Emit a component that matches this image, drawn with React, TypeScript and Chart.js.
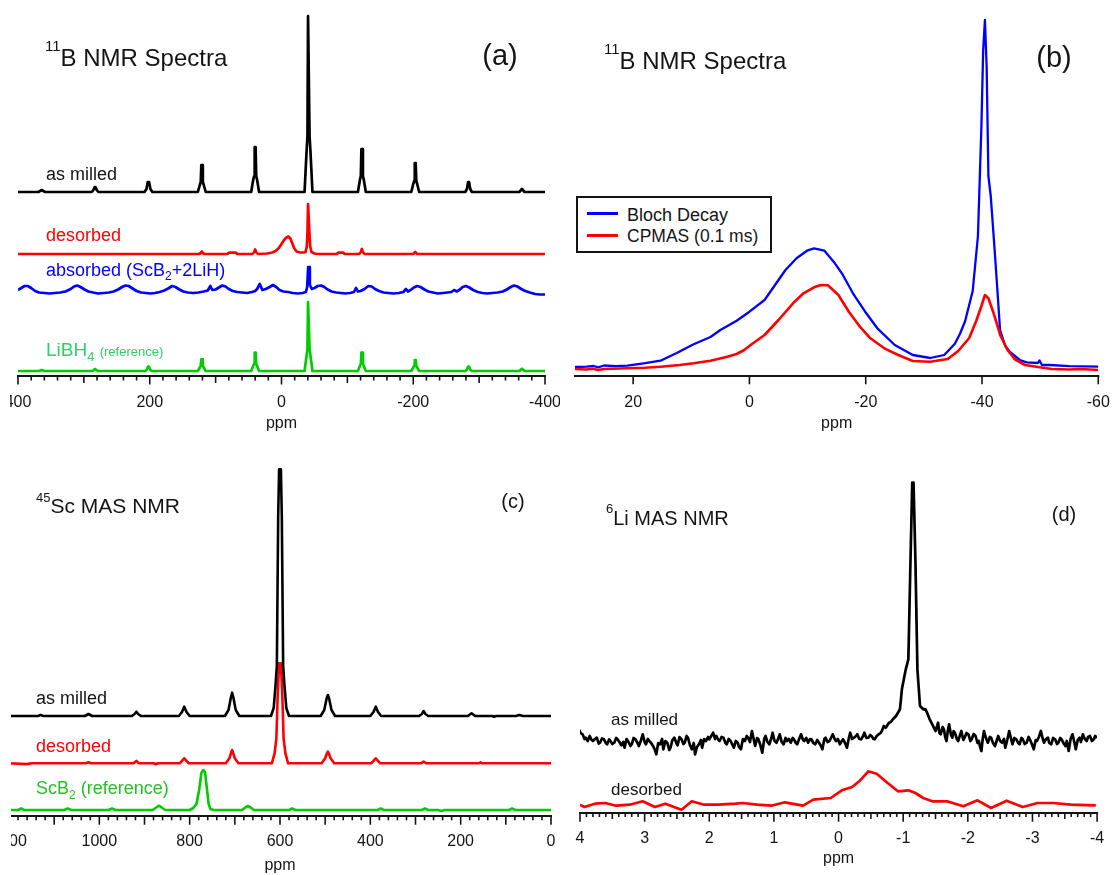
import React, { useEffect, useRef } from "react";
import { Chart, registerables } from "chart.js";
Chart.register(...registerables);

const FONT = "'Liberation Sans', Arial, Helvetica, sans-serif";
type Pt = [number, number];

// ================= Panel (a): 11B NMR spectra =================
const aTickLabels = [400, 200, 0, -200, -400];
const aMilledBase = 184;
const aDesorbedBase = 122;
const aAbsorbedBase = 83;
const aReferenceBase = 5;
const aMilled: Pt[] = [
  [400, 0], [369, 0], [364, 2], [359, 0],
  [288, 0], [285.5, 2], [283.5, 5], [282.5, 5], [280.5, 2], [278, 0],
  [208, 0], [205, 3], [203, 10], [201, 10], [199, 3], [196, 0],
  [127, 0], [124, 7], [122.6, 10], [121.7, 27], [120.3, 27], [119.4, 10], [118, 7], [115, 0],
  [46, 0], [43, 12], [41.6, 16], [40.7, 45], [39.3, 45], [38.4, 16], [37, 12], [34, 0],
  [-35, 0], [-38, 40], [-39.4, 56], [-40.3, 176], [-41.7, 176], [-42.6, 56], [-44, 40], [-47, 0],
  [-116, 0], [-119, 12], [-120.4, 16], [-121.3, 43], [-122.7, 43], [-123.6, 16], [-125, 12], [-128, 0],
  [-197, 0], [-200, 8], [-201.4, 11], [-202.3, 29], [-203.7, 29], [-204.6, 11], [-206, 8], [-209, 0],
  [-279, 0], [-281.5, 3], [-283.3, 10], [-284.7, 10], [-286.5, 3], [-289, 0],
  [-361, 0], [-363, 1.5], [-365, 3], [-367, 1.5], [-369, 0], [-400, 0],
];
const aDesorbed: Pt[] = [
  [400, 0], [125, 0], [122.5, 1], [121, 2.5], [119.5, 1], [117, 0],
  [82, 0], [80, 1.3], [69, 1.3], [67, 0],
  [44, 0], [41.5, 2], [40, 4.5], [38.5, 2], [36, 0],
  [22, 0.5], [14, 1.5], [9, 3], [4, 6], [0, 10], [-4, 14], [-7.5, 16.5], [-10.5, 17.5], [-13.5, 15.5],
  [-16.5, 10.5], [-19.5, 5.5], [-23, 2.5], [-28, 1.5], [-34, 1.5],
  [-36.5, 2], [-38.5, 8], [-39.5, 22], [-40.3, 50], [-41.5, 50], [-42.3, 22], [-43.5, 8], [-45.5, 2], [-50, 0.5], [-56, 0],
  [-84, 0], [-86, 1.3], [-94, 1.3], [-96, 0],
  [-118, 0], [-120.5, 2], [-122, 5], [-123.5, 2], [-126, 0],
  [-200, 0], [-203, 2], [-206, 0], [-400, 0],
];
const aAbsorbed: Pt[] = [
  [400, 3], [395, 5], [390, 7], [385, 7], [380, 5], [374, 2], [368, 0.5], [360, 0], [352, -0.5], [344, 0],
  [336, 0.5], [328, 1.5], [320, 4], [315, 6.5], [310, 7.5], [305, 6], [299, 3.5], [293, 1.5], [286, 0.5],
  [278, -0.5], [270, 0], [262, 0.5], [255, 1.5], [248, 3.5], [242, 6], [237, 7.5], [232, 7], [226, 4.5],
  [220, 2], [213, 0.5], [206, 0], [199, -0.5], [192, 0], [185, 1], [178, 2.5], [172, 4.5], [166, 7],
  [161, 6], [155, 3.5], [149, 1.5], [142, 0.5], [134, 0], [126, 0.5], [118, 1.5], [112, 2.5], [108, 7],
  [105, 3], [100, 3.5], [95, 5.5], [90, 7.5], [85, 6.5], [80, 4], [74, 2], [67, 1], [60, 0.5], [52, 0],
  [45, 1], [40, 2], [37, 4], [33, 9], [29, 3], [24, 4], [18, 6], [13, 8], [8, 6], [3, 3], [-3, 1.5],
  [-10, 1], [-17, 0], [-25, -0.5], [-32, 0], [-37, 1], [-39, 6], [-40.5, 26], [-42, 26], [-43, 8],
  [-46, 4], [-50, 5], [-55, 7], [-60, 7.5], [-65, 6], [-70, 3.5], [-76, 1.5], [-83, 0.5], [-90, 0],
  [-97, -0.5], [-104, 0], [-110, 1], [-113, 5], [-116, 1.5], [-120, 2], [-126, 4], [-132, 7], [-137, 6.5],
  [-142, 4], [-148, 2], [-155, 0.5], [-162, 0], [-170, -0.5], [-178, 0], [-185, 1], [-189, 4], [-192, 1.5],
  [-196, 3], [-201, 5.5], [-206, 7], [-211, 6], [-217, 3.5], [-223, 1.5], [-230, 0.5], [-237, -0.5],
  [-245, 0], [-252, 0.5], [-258, 1], [-262, 3], [-266, 1.5], [-270, 3], [-275, 6], [-280, 7], [-285, 5.5],
  [-291, 3], [-298, 1], [-305, 0], [-312, -0.5], [-320, 0], [-328, 0.5], [-336, 1.5], [-342, 3.5],
  [-348, 6], [-353, 7.5], [-358, 6.5], [-364, 4], [-370, 2], [-377, 0.5], [-385, -1], [-392, -1.5], [-400, -1.5],
];
const aReference: Pt[] = [
  [400, 0], [368, 0], [364, 1], [360, 0], [287, 0], [283, 2], [279, 0],
  [207, 0], [204.5, 1.5], [202.7, 4.3], [201.3, 4.3], [199.5, 1.5], [197, 0],
  [127, 0], [124, 3.5], [122.6, 5], [121.7, 11.7], [120.3, 11.7], [119.4, 5], [118, 3.5], [115, 0],
  [46, 0], [43, 5], [41.6, 7], [40.7, 18.3], [39.3, 18.3], [38.4, 7], [37, 5], [34, 0],
  [-35, 0], [-38, 15], [-39.4, 22], [-40.3, 69], [-41.7, 69], [-42.6, 22], [-44, 15], [-47, 0],
  [-116, 0], [-119, 5], [-120.4, 7], [-121.3, 18.3], [-122.7, 18.3], [-123.6, 7], [-125, 5], [-128, 0],
  [-197, 0], [-200, 3.5], [-201.4, 5], [-202.3, 11], [-203.7, 11], [-204.6, 5], [-206, 3.5], [-209, 0],
  [-279, 0], [-281.5, 1.5], [-283.3, 4.3], [-284.7, 4.3], [-286.5, 1.5], [-289, 0],
  [-361, 0], [-365, 2.3], [-369, 0], [-400, 0],
];

// ================= Panel (b): 11B NMR, Bloch decay vs CPMAS =================
const bTickLabels = [20, 0, -20, -40, -60];
const bBloch: Pt[] = [
  [30, 9], [28, 9.3], [26.8, 10], [26, 8.7], [25, 10.5], [23, 9.8], [21, 10.3], [18.2, 12.7], [15.3, 15.3],
  [12.5, 23], [9.6, 31.7], [6.7, 39], [5, 46], [2.2, 55.3], [0, 64.3], [-2.6, 76], [-4.4, 91], [-6.2, 106],
  [-8.1, 117.7], [-9.9, 125.3], [-11.1, 127.7], [-12.9, 125.3], [-14.7, 112.7], [-15.9, 102.7],
  [-17.8, 82.7], [-19.9, 64.3], [-22, 47.7], [-25, 31], [-28.1, 21], [-31.1, 18], [-33.5, 21],
  [-35.3, 32], [-36.2, 42], [-37.1, 55], [-38.4, 85], [-39.3, 140], [-39.9, 250], [-40.2, 326],
  [-40.5, 356], [-40.8, 309], [-41.1, 200], [-41.5, 180], [-42, 140], [-42.6, 90], [-43.1, 46],
  [-44, 30], [-44.8, 24], [-46.5, 16], [-47.7, 13.7], [-49.6, 13], [-49.9, 15.5], [-50.3, 11],
  [-51.6, 11], [-55, 9.8], [-60, 9.3],
];
const bCpmas: Pt[] = [
  [30, 7], [28, 6.5], [27, 7.3], [26, 6], [25, 7], [21, 7.7], [18, 8.3], [15.3, 9.3], [12, 11],
  [9.6, 12.7], [6.7, 15.3], [3.8, 19.3], [2.2, 22], [0.9, 26], [-0.2, 31], [-2.6, 41], [-5, 56],
  [-7.5, 72.7], [-9.3, 82.7], [-11.1, 88.7], [-12.3, 91], [-13.5, 90.7], [-15.3, 81], [-17.1, 64.3],
  [-19, 49.3], [-20.8, 37.7], [-23.2, 27.7], [-25.6, 21], [-28.1, 15], [-31.1, 14.3], [-34.1, 17],
  [-35.9, 25], [-37.8, 38], [-39, 55], [-39.9, 70], [-40.5, 81], [-41.1, 77.7], [-42, 62.7], [-43.2, 40],
  [-44.4, 26], [-45.6, 17], [-47.4, 11], [-49.9, 8.7], [-52, 7], [-55, 6.5], [-57, 7], [-60, 6],
];

// ================= Panel (c): 45Sc MAS NMR =================
const cTickLabels = [1200, 1000, 800, 600, 400, 200, 0];
const cMilledBase = 100;
const cDesorbedBase = 52.7;
const cReferenceBase = 6;
const cMilled: Pt[] = [
  [1200, 0], [1136, 0], [1130, 1], [1124, 0], [1032, 0], [1024, 2], [1016, 0],
  [928, 0], [922, 2], [918, 4.3], [914, 2], [908, 0],
  [824, 0], [817, 4], [812, 9.3], [807, 4], [800, 0],
  [722, 0], [714, 6], [709, 18], [706, 23.3], [703, 18], [698, 6], [690, 0],
  [620, 0], [614, 8], [610, 30], [607, 50], [604, 200], [602, 246.7], [598, 246.7], [596, 200],
  [593, 50], [590, 30], [586, 8], [580, 0],
  [510, 0], [502, 6], [497, 17], [494, 21], [491, 17], [486, 6], [478, 0],
  [400, 0], [393, 4], [388, 9.3], [383, 4], [376, 0],
  [292, 0], [286, 2], [282, 5], [278, 2], [272, 0],
  [184, 0], [176, 2.7], [168, 0], [130, 0], [126, -0.8], [122, 0], [78, 0], [70, 1], [62, 0], [0, 0],
];
const cDesorbed: Pt[] = [
  [1200, 0], [1160, -0.8], [1150, 0], [1030, 0], [1024, 1], [1018, 0], [924, 0], [918, 2.4], [912, 0],
  [880, 0], [875, -1], [870, 0],
  [822, 0], [816, 3], [812, 5], [808, 3], [802, 0],
  [720, 0], [712, 5], [708, 11], [706, 13.3], [704, 11], [700, 5], [692, 0],
  [618, 0], [612, 10], [608, 25], [605, 70], [602, 100], [598, 100], [595, 70], [592, 25], [588, 10], [582, 0],
  [508, 0], [500, 5], [496, 10], [494, 11.7], [492, 10], [488, 5], [480, 0],
  [398, 0], [392, 3], [388, 5], [384, 3], [378, 0],
  [288, 0], [282, 1.7], [276, 0], [160, 0], [156, 1], [152, 0], [0, 0],
];
const cReference: Pt[] = [
  [1200, 0], [1180, 0], [1173, 1.5], [1166, 0], [1078, 0], [1070, 1.5], [1062, 0], [980, 0], [972, 1.5], [964, 0],
  [882, 0], [874, 2.5], [868, 4.3], [862, 2.5], [854, 0],
  [800, 0], [792, 2], [785, 6], [779, 20], [774, 37], [770, 40], [766, 38], [762, 22], [758, 6], [754, 1], [746, 0],
  [684, 0], [677, 2.5], [671, 4], [665, 2.5], [658, 0],
  [580, 0], [573, 1.5], [566, 0], [384, 0], [377, 1.5], [370, 0], [286, 0], [279, 1.5], [272, 0],
  [250, 0], [243, -1], [236, 0], [93, 0], [86, 1.5], [79, 0], [0, 0],
];

// ================= Panel (d): 6Li MAS NMR =================
const dTickLabels = [4, 3, 2, 1, 0, -1, -2, -3, -4];
const dMilledBase = 72;
const dDesorbedBase = 8;
const dMilled: Pt[] = [
  [4.02, 11.7], [3.99, 8], [3.96, 6.7], [3.93, 2], [3.91, 3.3], [3.88, 0], [3.85, 5], [3.82, 1], [3.8, 0],
  [3.77, 2], [3.74, 3.3], [3.71, -2.5], [3.69, -1.7], [3.66, 2.5], [3.63, 1.7], [3.6, -2],
  [3.58, -3.3], [3.55, 1.5], [3.53, 0], [3.5, -3], [3.47, -1.7], [3.44, 3], [3.42, 1.7], [3.39, -1],
  [3.36, -4.3], [3.33, -1], [3.31, -6.7], [3.28, 2], [3.25, -1], [3.22, -5], [3.2, -3.3],
  [3.17, 3], [3.14, 1.7], [3.11, -2], [3.09, -5], [3.06, 0], [3.03, 6.7], [3.0, -1], [2.98, -3.3], [2.95, 2],
  [2.93, 0], [2.9, -2], [2.87, -5], [2.84, -9], [2.82, -13.3], [2.79, -2], [2.76, -3.3], [2.73, 2],
  [2.71, -8.3], [2.68, 0], [2.65, -1.7], [2.62, -9], [2.6, -6.7], [2.57, 1], [2.54, 3.3], [2.51, -2],
  [2.49, -4.3], [2.46, 4], [2.43, 1.7], [2.4, -3], [2.38, -1.7], [2.35, 5], [2.33, 3.3], [2.3, -4],
  [2.27, -8.3], [2.24, -2], [2.22, -13.3], [2.19, -6], [2.16, -3.3], [2.13, 1], [2.11, -6.7], [2.08, 2],
  [2.05, 0], [2.02, 4], [2.0, 1.7], [1.97, 5], [1.94, 8.3], [1.91, 2], [1.89, 5], [1.86, 1],
  [1.84, 0], [1.81, 4], [1.78, 3.3], [1.75, -2], [1.73, -3.3], [1.7, 2], [1.67, 0], [1.64, -4],
  [1.62, -6.7], [1.59, 0], [1.56, -1.7], [1.54, -6], [1.51, -8.3], [1.48, 2], [1.45, 0], [1.42, 5],
  [1.4, 3.3], [1.37, -1], [1.34, 10], [1.31, 1], [1.29, -5], [1.26, 3], [1.24, 1.7], [1.21, -4],
  [1.18, -11.7], [1.15, 2], [1.13, 5], [1.1, -1], [1.07, -3.3], [1.04, 3], [1.02, 8.3], [0.99, 0],
  [0.96, -1.7], [0.93, 3], [0.91, 6.7], [0.88, -1], [0.85, -3.3], [0.82, 3], [0.8, 0], [0.77, 2],
  [0.74, -1.7], [0.71, 3], [0.69, 1.7], [0.66, -2], [0.64, -3.3], [0.61, 2], [0.58, 6.7], [0.55, 1],
  [0.53, 0], [0.5, 3], [0.47, -1.7], [0.44, 2], [0.42, 1.7], [0.39, -2], [0.36, -3.3], [0.33, 1],
  [0.31, -1], [0.28, -4], [0.25, -8.3], [0.22, 2], [0.2, 3.3], [0.17, -1], [0.14, 0], [0.11, 4],
  [0.09, 6.7], [0.06, 2], [0.04, 0], [0.01, 2], [-0.02, -3.3], [-0.05, 0], [-0.07, 1.7], [-0.1, -2],
  [-0.13, -6.7], [-0.16, 3], [-0.18, 8.3], [-0.21, 2], [-0.24, 3.3], [-0.27, 5], [-0.29, 6.7],
  [-0.32, 2], [-0.35, 1.7], [-0.38, 5], [-0.4, 8.3], [-0.43, 3], [-0.46, 3.3], [-0.49, 6], [-0.51, 5],
  [-0.54, 2], [-0.56, 1.7], [-0.59, 5], [-0.62, 6.7], [-0.65, 8],
  [-0.67, 10], [-0.7, 15], [-0.73, 13.3], [-0.78, 18.3], [-0.81, 19], [-0.84, 21.7], [-0.89, 25], [-0.95, 31.7], [-0.98, 51.7],
  [-1.04, 71.7], [-1.08, 81.7], [-1.11, 171.7], [-1.14, 258.3], [-1.16, 258.3], [-1.19, 178.3],
  [-1.22, 71.7], [-1.26, 35], [-1.31, 31.7], [-1.34, 32], [-1.37, 28.3], [-1.41, 21.7], [-1.45, 16.7], [-1.5, 10],
  [-1.52, 14], [-1.54, 18.3], [-1.56, 8], [-1.58, 6.7], [-1.61, 14], [-1.63, 11.7], [-1.65, 4], [-1.67, 0],
  [-1.69, 10], [-1.71, 16.7], [-1.74, 6], [-1.76, 3.3], [-1.78, 10], [-1.8, 8.3], [-1.83, 2],
  [-1.85, 0], [-1.88, 6], [-1.9, 10], [-1.93, 1], [-1.95, 3.3], [-1.98, 8], [-2.01, 6.7], [-2.04, 0],
  [-2.06, 1.7], [-2.09, 7], [-2.12, 5], [-2.15, -2], [-2.17, 0], [-2.19, -6], [-2.21, -10], [-2.23, 2],
  [-2.25, 10], [-2.28, 3], [-2.31, -1.7], [-2.34, 4], [-2.36, 3.3], [-2.39, -2], [-2.42, -5], [-2.45, 1],
  [-2.47, 5], [-2.5, 0], [-2.53, -1.7], [-2.56, 2], [-2.58, -6.7], [-2.61, 1], [-2.64, 10], [-2.67, 2],
  [-2.69, -3.3], [-2.72, 3], [-2.75, 1.7], [-2.78, -2], [-2.8, -3.3], [-2.83, 3], [-2.85, 1.7], [-2.88, -3],
  [-2.91, -1.7], [-2.94, 4], [-2.96, 1.7], [-2.99, -3], [-3.02, -8.3], [-3.05, 1], [-3.07, 0], [-3.1, 4],
  [-3.13, 10], [-3.16, 2], [-3.18, -1.7], [-3.21, 2], [-3.24, 3.3], [-3.26, -2], [-3.29, -3.3],
  [-3.32, 3], [-3.35, 1.7], [-3.38, -3], [-3.4, -1.7], [-3.43, 3], [-3.45, 1.7], [-3.48, -2],
  [-3.51, -5], [-3.53, 0], [-3.56, -10], [-3.59, 2], [-3.62, 6.7], [-3.65, -2], [-3.67, -8.3], [-3.7, 1],
  [-3.73, 3.3], [-3.75, -1], [-3.78, 6.7], [-3.81, 2], [-3.84, 0], [-3.86, 4], [-3.89, 5], [-3.92, 0],
  [-3.95, 1.7], [-3.97, 5], [-4.0, 3.3],
];
const dDesorbed: Pt[] = [
  [4.0, 0.3], [3.93, -2], [3.77, 1.3], [3.61, 2], [3.44, -0.7], [3.23, 0.3], [3.03, 3.7], [2.84, -2],
  [2.68, 1.3], [2.43, -4.7], [2.27, 3.7], [2.08, 0.3], [1.86, 0.3], [1.59, 1.3], [1.48, 2], [1.26, 0.3],
  [1.04, -0.7], [0.83, 2.7], [0.55, -0.7], [0.39, 5.3], [0.12, 7], [-0.05, 14.7], [-0.21, 18],
  [-0.32, 23.7], [-0.46, 33.7], [-0.59, 31.3], [-0.76, 22], [-0.92, 13.7], [-1.08, 14.7], [-1.19, 12],
  [-1.31, 7], [-1.46, 3.6], [-1.68, 3.7], [-1.93, -1.3], [-2.15, 4.7], [-2.36, -3], [-2.6, 4.3],
  [-2.85, -2], [-3.08, 2], [-3.32, 2], [-3.59, 0.3], [-3.98, -0.4],
];

// ================= Chart panels =================
type Trace = { data: Pt[]; base: number; color: string; width: number };
type PanelCfg = {
  left: number; top: number; width: number; height: number; clipLeft: number;
  padL: number; padR: number; xMin: number; xMax: number; yMax: number;
  ticks: number[]; tickPad: number; axisH: number;
  minorStep: number; midStep: number; majorStep: number;
  minorLen: number; midLen: number; majorLen: number;
  traces: Trace[];
};

const BLACK = "#000000";
const RED = "#ff0000";
const BLUE = "#0000ff";
const GREEN = "#00cc00";
const INK = "#141414";

const panelA: PanelCfg = {
  left: 0, top: 0, width: 560, height: 433, clipLeft: 10, padL: 18, padR: 15,
  xMin: -400, xMax: 400, yMax: 376, ticks: aTickLabels, tickPad: 17, axisH: 57,
  minorStep: 20, midStep: 100, majorStep: 200, minorLen: 4.5, midLen: 7, majorLen: 8.5,
  traces: [
    { data: aMilled, base: aMilledBase, color: BLACK, width: 2.7 },
    { data: aDesorbed, base: aDesorbedBase, color: RED, width: 2.7 },
    { data: aAbsorbed, base: aAbsorbedBase, color: BLUE, width: 2.7 },
    { data: aReference, base: aReferenceBase, color: GREEN, width: 2.7 },
  ],
};
const panelB: PanelCfg = {
  left: 560, top: 0, width: 553, height: 433, clipLeft: 560, padL: 15, padR: 14.7,
  xMin: -60, xMax: 30, yMax: 376, ticks: bTickLabels, tickPad: 17, axisH: 57,
  minorStep: 20, midStep: 20, majorStep: 20, minorLen: 8.3, midLen: 8.3, majorLen: 8.3,
  traces: [
    { data: bCpmas, base: 0, color: RED, width: 2.6 },
    { data: bBloch, base: 0, color: BLUE, width: 2.3 },
  ],
};
const panelC: PanelCfg = {
  left: 0, top: 440, width: 560, height: 435, clipLeft: 11, padL: 9, padR: 9,
  xMin: 0, xMax: 1200, yMax: 376, ticks: cTickLabels, tickPad: 16, axisH: 59,
  minorStep: 20, midStep: 100, majorStep: 200, minorLen: 4.3, midLen: 8.7, majorLen: 8.7,
  traces: [
    { data: cReference, base: cReferenceBase, color: GREEN, width: 2.6 },
    { data: cMilled, base: cMilledBase, color: BLACK, width: 2.6 },
    { data: cDesorbed, base: cDesorbedBase, color: RED, width: 2.6 },
  ],
};
const panelD: PanelCfg = {
  left: 560, top: 440, width: 553, height: 428, clipLeft: 560, padL: 20, padR: 15.9,
  xMin: -4, xMax: 4, yMax: 373, ticks: dTickLabels, tickPad: 16, axisH: 55,
  minorStep: 0.1, midStep: 0.5, majorStep: 1, minorLen: 4, midLen: 6, majorLen: 8.7,
  traces: [
    { data: dMilled, base: dMilledBase, color: BLACK, width: 2.7 },
    { data: dDesorbed, base: dDesorbedBase, color: RED, width: 2.7 },
  ],
};

function isMult(v: number, step: number) {
  const q = v / step;
  return Math.abs(q - Math.round(q)) < 1e-6;
}

function Panel({ cfg }: { cfg: PanelCfg }) {
  const ref = useRef<HTMLCanvasElement>(null);
  useEffect(() => {
    const axisPlugin = {
      id: "nmrAxis",
      afterDatasetsDraw(chart: any) {
        const { ctx, chartArea } = chart;
        const xs = chart.scales.x;
        const y0 = chartArea.bottom;
        ctx.save();
        ctx.strokeStyle = INK;
        ctx.lineWidth = 2;
        ctx.beginPath();
        ctx.moveTo(chartArea.left - 1, y0);
        ctx.lineTo(chartArea.right + 1, y0);
        ctx.stroke();
        ctx.lineWidth = 1.6;
        const start = Math.ceil(cfg.xMin / cfg.minorStep - 1e-9);
        for (let k = start; ; k++) {
          const v = k * cfg.minorStep;
          if (v > cfg.xMax + 1e-9) break;
          const len = isMult(v, cfg.majorStep) ? cfg.majorLen : isMult(v, cfg.midStep) ? cfg.midLen : cfg.minorLen;
          const px = xs.getPixelForValue(v);
          ctx.beginPath();
          ctx.moveTo(px, y0);
          ctx.lineTo(px, y0 + len);
          ctx.stroke();
        }
        ctx.restore();
      },
    };
    const chart = new Chart(ref.current as HTMLCanvasElement, {
      type: "line",
      data: {
        datasets: cfg.traces.map((t) => ({
          data: t.data.map(([x, y]) => ({ x, y: y + t.base })),
          borderColor: t.color,
          backgroundColor: t.color,
          borderWidth: t.width,
          pointRadius: 0,
          tension: 0,
          fill: false,
          borderJoinStyle: "round" as const,
        })),
      },
      options: {
        responsive: false,
        animation: false,
        events: [],
        layout: { padding: { left: cfg.padL, right: cfg.padR, top: 0, bottom: 0 }, autoPadding: false },
        plugins: { legend: { display: false }, tooltip: { enabled: false } },
        scales: {
          x: {
            type: "linear",
            reverse: true,
            min: cfg.xMin,
            max: cfg.xMax,
            grid: { display: false, drawTicks: false },
            border: { display: false },
            afterBuildTicks: (s: any) => {
              s.ticks = cfg.ticks.map((v) => ({ value: v }));
            },
            afterFit: (s: any) => {
              s.height = cfg.axisH;
              s.paddingLeft = 0;
              s.paddingRight = 0;
            },
            ticks: {
              padding: cfg.tickPad,
              maxRotation: 0,
              autoSkip: false,
              color: INK,
              font: { size: 16, family: FONT },
              callback: (v: any) => String(v),
            },
            title: { display: true, text: "ppm", padding: 0, color: INK, font: { size: 16, family: FONT } },
          },
          y: { display: false, min: 0, max: cfg.yMax },
        },
      },
      plugins: [axisPlugin],
    } as any);
    return () => chart.destroy();
  }, [cfg]);
  return (
    <div
      style={{
        position: "absolute",
        left: cfg.clipLeft,
        top: cfg.top,
        width: cfg.width - (cfg.clipLeft - cfg.left),
        height: cfg.height,
        overflow: "hidden",
      }}
    >
      <canvas
        ref={ref}
        width={cfg.width}
        height={cfg.height}
        style={{ position: "absolute", left: cfg.left - cfg.clipLeft, top: 0, width: cfg.width, height: cfg.height }}
      />
    </div>
  );
}

function Txt(props: { x: number; y: number; size: number; color?: string; center?: boolean; children: any }) {
  const { x, y, size, color = INK, center, children } = props;
  return (
    <div
      style={{
        position: "absolute",
        left: x,
        top: y - size * 0.49,
        fontFamily: FONT,
        fontSize: size,
        lineHeight: `${size}px`,
        color,
        whiteSpace: "nowrap",
        transform: center ? "translateX(-50%)" : undefined,
        zIndex: 2,
      }}
    >
      {children}
    </div>
  );
}

const Sup = ({ size, raise, children }: { size: number; raise: number; children: any }) => (
  <span style={{ fontSize: size, position: "relative", top: -raise }}>{children}</span>
);
const Sub = ({ size, lower, children }: { size: number; lower: number; children: any }) => (
  <span style={{ fontSize: size, position: "relative", top: lower }}>{children}</span>
);

export default function App() {
  return (
    <div
      style={{
        position: "absolute",
        left: 0,
        top: 0,
        width: 1113,
        height: 875,
        background: "#ffffff",
        overflow: "hidden",
      }}
    >
      <Panel cfg={panelA} />
      <Panel cfg={panelB} />
      <Panel cfg={panelC} />
      <Panel cfg={panelD} />

      {/* Panel (a) text */}
      <Txt x={45} y={57.5} size={24}>
        <Sup size={15} raise={15}>11</Sup>B NMR Spectra
      </Txt>
      <Txt x={500} y={55} size={29} center>(a)</Txt>
      <Txt x={46} y={174} size={18}>as milled</Txt>
      <Txt x={46} y={235} size={18} color={RED}>desorbed</Txt>
      <Txt x={46} y={270} size={18} color={BLUE}>
        absorbed (ScB<Sub size={12} lower={4}>2</Sub>+2LiH)
      </Txt>
      <Txt x={46} y={349} size={19} color="#2ecf66">
        LiBH<Sub size={13} lower={5}>4</Sub> <span style={{ fontSize: 13 }}>(reference)</span>
      </Txt>

      {/* Panel (b) text + legend */}
      <Txt x={604} y={60.5} size={24}>
        <Sup size={15} raise={15}>11</Sup>B NMR Spectra
      </Txt>
      <Txt x={1054} y={57.5} size={29} center>(b)</Txt>
      <div
        style={{
          position: "absolute",
          left: 576,
          top: 196,
          width: 196,
          height: 57,
          border: `2px solid ${INK}`,
          boxSizing: "border-box",
          background: "#fff",
          zIndex: 1,
        }}
      />
      <div style={{ position: "absolute", left: 587, top: 211.5, width: 31, height: 3, background: BLUE, zIndex: 2 }} />
      <div style={{ position: "absolute", left: 587, top: 233.5, width: 31, height: 3, background: RED, zIndex: 2 }} />
      <Txt x={627} y={214.5} size={18}>Bloch Decay</Txt>
      <Txt x={627} y={236.5} size={17.5}>CPMAS (0.1 ms)</Txt>

      {/* Panel (c) text */}
      <Txt x={36} y={505} size={21}>
        <Sup size={13} raise={11}>45</Sup>Sc MAS NMR
      </Txt>
      <Txt x={513} y={501} size={20} center>(c)</Txt>
      <Txt x={36} y={698} size={18}>as milled</Txt>
      <Txt x={36} y={746} size={18} color={RED}>desorbed</Txt>
      <Txt x={36} y={788} size={18} color="#22c422">
        ScB<Sub size={12} lower={5}>2</Sub> (reference)
      </Txt>

      {/* Panel (d) text */}
      <Txt x={606} y={517.5} size={20}>
        <Sup size={13} raise={12}>6</Sup>Li MAS NMR
      </Txt>
      <Txt x={1064} y={513.5} size={20} center>(d)</Txt>
      <Txt x={611} y={719} size={17}>as milled</Txt>
      <Txt x={611} y={789} size={17}>desorbed</Txt>
    </div>
  );
}
